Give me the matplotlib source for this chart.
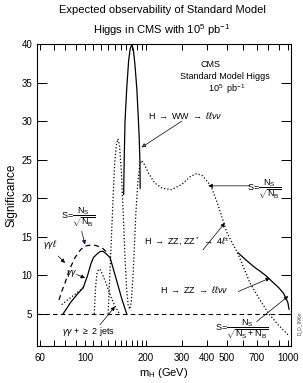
import numpy as np
import matplotlib
matplotlib.use("Agg")
import matplotlib.pyplot as plt
from matplotlib.ticker import FixedLocator, NullFormatter

plt.rcParams['font.family'] = ['Liberation Sans', 'DejaVu Sans']
plt.rcParams['mathtext.fontset'] = 'custom'
plt.rcParams['mathtext.rm'] = 'Liberation Sans'
plt.rcParams['mathtext.it'] = 'Liberation Sans:italic'
plt.rcParams['mathtext.bf'] = 'Liberation Sans:bold'

# H -> WW -> l l nu nu (solid)
ww_m = [155, 156, 157.4, 160.5, 164, 167, 170, 173, 176, 180, 183, 185, 186.5, 187]
ww_s = [20.5, 25, 29.9, 34.2, 37.8, 39.4, 39.9, 39.3, 37.5, 34.2, 30.5, 27.7, 24.5, 21.3]

# H -> ZZ, ZZ* -> 4l (dotted)
zz4l_m = [130, 132, 134, 136, 138, 140, 142.5, 145.3, 148, 151, 154, 157, 160, 163, 166,
          169, 172, 175, 178, 182, 186, 190, 195, 205, 220, 240, 267, 300, 330, 355,
          380, 405, 420, 450, 499, 569, 650, 720, 800, 900, 1000]
zz4l_s = [5.0, 9, 13, 17, 21, 24.5, 26.8, 27.7, 26.8, 23.5, 18.5, 13, 8.5, 6.2, 5.6,
          6.5, 9.5, 13.5, 18, 22, 24.3, 24.9, 24.5, 23.3, 22.0, 21.3, 21.1, 21.8, 22.8, 23.2,
          22.9, 22.0, 21.4, 19.3, 15.6, 12.7, 9.0, 7.0, 5.1, 3.5, 2.3]

# H -> ZZ -> l l nu nu (solid)
zzll_m = [569, 620, 680, 740, 783, 850, 900, 948, 980, 1000, 1012]
zzll_s = [12.9, 12.0, 11.1, 10.4, 9.9, 9.0, 8.4, 7.7, 7.0, 6.4, 5.6]

# H -> gamma gamma (solid)
gg_m = [78, 85, 92, 98, 103, 107, 110, 115, 119, 123, 127, 132.8, 138, 145, 152, 160.5]
gg_s = [5.0, 6.5, 7.6, 8.4, 10.0, 11.5, 12.3, 12.8, 13.1, 13.1, 12.8, 12.3, 10.8, 8.8, 6.9, 5.0]

# gamma gamma, other estimate (dotted)
ggd_m = [76.7, 82, 88, 94, 98]
ggd_s = [6.2, 6.8, 7.4, 8.0, 8.4]

# gamma gamma + >= 2 jets (dotted)
ggj_m = [111, 112, 113, 114.5, 116.5, 119, 122, 126, 130, 135, 140, 145, 148]
ggj_s = [5.0, 7.0, 8.8, 10.2, 10.8, 10.7, 10.1, 9.2, 8.2, 7.0, 6.1, 5.4, 5.0]

# gamma gamma lepton (dashed)
ggl_m = [74.4, 77, 79.7, 84, 89.3, 95, 100, 105.8, 112, 120.8, 127]
ggl_s = [6.8, 8.0, 9.0, 10.8, 12.3, 13.3, 13.8, 13.9, 13.9, 13.6, 13.1]

threshold = 5

xticks = [60, 100, 200, 300, 400, 500, 700, 1000]
xminor = [70, 80, 90, 110, 120, 130, 140, 150, 160, 170, 180, 190, 600, 800, 900]
yticks = [5, 10, 15, 20, 25, 30, 35, 40]

fig = plt.figure(figsize=(3.03, 3.83), dpi=100)
ax = fig.add_axes([0.1221, 0.0966, 0.8383, 0.7885])

ax.plot(ww_m, ww_s, 'k-', lw=0.9)
ax.plot(zz4l_m, zz4l_s, 'k:', lw=0.9)
ax.plot(zzll_m, zzll_s, 'k-', lw=0.9)
ax.plot(gg_m, gg_s, 'k-', lw=0.9)
ax.plot(ggd_m, ggd_s, 'k:', lw=0.9)
ax.plot(ggj_m, ggj_s, 'k:', lw=0.9)
ax.plot(ggl_m, ggl_s, 'k', lw=0.9, ls=(0, (4, 3)))
ax.axhline(threshold, color='k', lw=0.8, ls=(0, (4, 3)))

ax.set_xscale('log')
ax.set_xlim(58, 1035)
ax.set_ylim(0.83, 40)
ax.xaxis.set_major_locator(FixedLocator(xticks))
ax.xaxis.set_minor_locator(FixedLocator(xminor))
ax.xaxis.set_minor_formatter(NullFormatter())
ax.set_xticklabels([str(v) for v in xticks])
ax.set_yticks(yticks)
ax.tick_params(axis='x', which='both', direction='in', top=True, length=4, width=0.7,
               labelsize=7, pad=5)
ax.tick_params(axis='y', which='both', direction='in', right=True, length=7, width=0.7,
               labelsize=7)
for sp in ax.spines.values():
    sp.set_linewidth(0.8)

ax.set_xlabel(r'm$_\mathrm{H}$ (GeV)', fontsize=8, labelpad=2)
ax.set_ylabel('Significance', fontsize=8.5, labelpad=3)

fig.text(0.535, 0.973, 'Expected observability of Standard Model', ha='center',
         va='center', fontsize=8)
fig.text(0.535, 0.922, r'Higgs in CMS with 10$^5$ pb$^{-1}$', ha='center',
         va='center', fontsize=8)

s_nb = r'S=$\dfrac{\mathrm{N_S}}{\sqrt{\mathrm{N_B}}}$'
s_nsnb = r'S=$\dfrac{\mathrm{N_S}}{\sqrt{\mathrm{N_S+N_B}}}$'

fs = 6.5
ax.text(415, 37.3, 'CMS', ha='center', va='center', fontsize=fs)
ax.text(489, 35.8, 'Standard Model Higgs', ha='center', va='center', fontsize=fs)
ax.text(499, 34.2, r'10$^5$  pb$^{-1}$', ha='center', va='center', fontsize=fs)

ax.text(204, 30.7, r'H $\rightarrow$ WW $\rightarrow$ $\ell\ell\nu\nu$', ha='left',
        va='center', fontsize=fs)
ax.annotate('', xy=(190, 26.6), xytext=(300, 30.0),
            arrowprops=dict(arrowstyle='-|>', lw=0.5, ec='k', fc='#22dd22',
                            mutation_scale=6, shrinkA=0, shrinkB=0))

ax.text(760, 21.2, s_nb, ha='center', va='center', fontsize=fs)
ax.annotate('', xy=(405, 21.6), xytext=(650, 21.6),
            arrowprops=dict(arrowstyle='-|>', lw=0.5, color='k',
                            mutation_scale=6, shrinkA=0, shrinkB=0))

ax.text(318, 14.3, r'H $\rightarrow$ ZZ, ZZ$^*$ $\rightarrow$ 4$\ell^{\pm}$', ha='center',
        va='center', fontsize=fs)
ax.annotate('', xy=(489, 16.8), xytext=(381, 13.3),
            arrowprops=dict(arrowstyle='-|>', lw=0.5, color='k',
                            mutation_scale=6, shrinkA=0, shrinkB=0))

ax.text(344, 8.1, r'H $\rightarrow$ ZZ $\rightarrow$ $\ell\ell\nu\nu$', ha='center',
        va='center', fontsize=fs)
ax.annotate('', xy=(816, 9.65), xytext=(569, 7.9),
            arrowprops=dict(arrowstyle='-|>', lw=0.5, color='k',
                            mutation_scale=6, shrinkA=0, shrinkB=0))

ax.text(590, 3.0, s_nsnb, ha='center', va='center', fontsize=fs)
ax.annotate('', xy=(1003, 7.3), xytext=(701, 4.0),
            arrowprops=dict(arrowstyle='-|>', lw=0.5, color='k',
                            mutation_scale=6, shrinkA=0, shrinkB=0))

ax.text(92.3, 17.6, s_nb, ha='center', va='center', fontsize=fs)
ax.annotate('', xy=(100, 14.0), xytext=(96.3, 15.7),
            arrowprops=dict(arrowstyle='-|>', lw=0.5, ec='k', fc='#2233ee',
                            mutation_scale=6, shrinkA=0, shrinkB=0))

ax.text(67.2, 14.0, r'$\gamma\gamma\ell$', ha='center', va='center', fontsize=fs)
ax.annotate('', xy=(79.7, 11.6), xytext=(73.8, 12.5),
            arrowprops=dict(arrowstyle='-|>', lw=0.5, color='k',
                            mutation_scale=6, shrinkA=0, shrinkB=0))

ax.text(85.8, 10.2, r'$\gamma\gamma$', ha='center', va='center', fontsize=fs)
ax.annotate('', xy=(100, 9.65), xytext=(91, 10.1),
            arrowprops=dict(arrowstyle='-|>', lw=0.5, color='k',
                            mutation_scale=6, shrinkA=0, shrinkB=0))

ax.text(103.4, 2.7, r'$\gamma\gamma$ + $\geq$ 2 jets', ha='center', va='center', fontsize=fs)
ax.annotate('', xy=(140.5, 5.95), xytext=(118.4, 3.57),
            arrowprops=dict(arrowstyle='-|>', lw=0.5, color='k',
                            mutation_scale=6, shrinkA=0, shrinkB=0))

fig.text(0.988, 0.157, 'D_D_996n', rotation=90, ha='center', va='center', fontsize=3.5,
         color='#444444')

fig.savefig('out.png', dpi=100)
